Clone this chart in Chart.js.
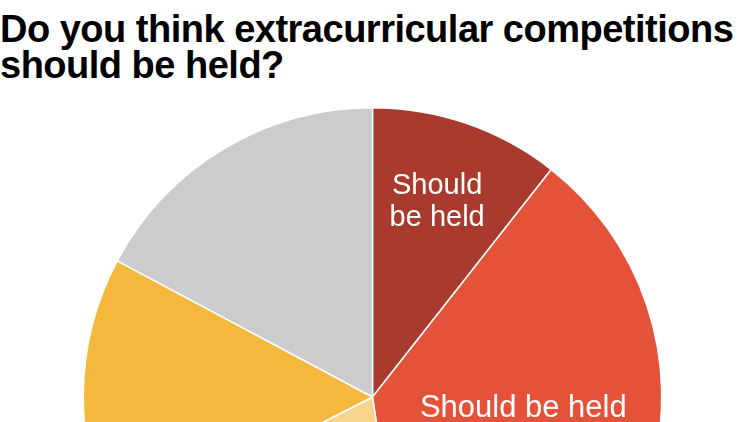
<!DOCTYPE html>
<html>
<head>
<meta charset="utf-8">
<script src="https://cdn.jsdelivr.net/npm/chart.js@4/dist/chart.umd.min.js"></script>
<style>
  html, body { margin: 0; padding: 0; background: #fff; }
  body { width: 750px; height: 422px; overflow: hidden; position: relative; }
  h1 {
    position: absolute; left: 0; top: 11px; margin: 0;
    font-family: 'Liberation Sans', Arial, sans-serif; font-weight: bold;
    font-size: 38px; line-height: 36px; letter-spacing: -0.5px; color: #000;
  }
  #wrap { position: absolute; left: 0; top: 107px; width: 745px; height: 580px; }
</style>
</head>
<body>
<h1>Do you think extracurricular competitions<br>should be held?</h1>
<div id="wrap"><canvas id="pie"></canvas></div>
<script>
// answers, clockwise from 12 o'clock (only the top of the pie is visible)
const categories = ['Should be held', 'Should be held', '', '', ''];
const labelLines = [['Should', 'be held'], ['Should be held'], [], [], []];
const shares = [10.6, 37.0, 19.9, 15.3, 17.2];
const colors = ['#a83b2e', '#e5523a', '#f9d48c', '#f5b83c', '#cccccc'];

// where each label sits inside its slice: fraction along the arc, fraction of radius
const labelSpots = [
  { along: 0.5, out: 0.684, size: 29, gap: 32, shift: -16 },
  { along: 0.423, out: 0.523, size: 31, gap: 34, shift: 8 }
];

const sliceLabels = {
  id: 'sliceLabels',
  afterDatasetsDraw(chart) {
    const ctx = chart.ctx;
    const meta = chart.getDatasetMeta(0);
    meta.data.forEach((arc, i) => {
      const spot = labelSpots[i];
      const lines = labelLines[i];
      if (!spot || !lines.length) return;
      const p = arc.getProps(['x', 'y', 'startAngle', 'endAngle', 'outerRadius'], true);
      const a = p.startAngle + spot.along * (p.endAngle - p.startAngle);
      const cx = p.x + Math.cos(a) * p.outerRadius * spot.out;
      const cy = p.y + Math.sin(a) * p.outerRadius * spot.out;
      ctx.save();
      ctx.fillStyle = '#fff';
      ctx.font = spot.size + "px 'Liberation Sans', Arial, sans-serif";
      ctx.textAlign = 'center';
      ctx.textBaseline = 'alphabetic';
      lines.forEach((t, j) => ctx.fillText(t, cx, cy + spot.shift + j * spot.gap));
      ctx.restore();
    });
  }
};

new Chart(document.getElementById('pie').getContext('2d'), {
  type: 'pie',
  data: {
    labels: categories,
    datasets: [{
      data: shares,
      backgroundColor: colors,
      borderColor: '#ffffff',
      borderWidth: 1.5
    }]
  },
  options: {
    responsive: true,
    maintainAspectRatio: false,
    animation: false,
    layout: { padding: 0 },
    plugins: {
      legend: { display: false },
      tooltip: { enabled: false },
      title: { display: false }
    }
  },
  plugins: [sliceLabels]
});
</script>
</body>
</html>
